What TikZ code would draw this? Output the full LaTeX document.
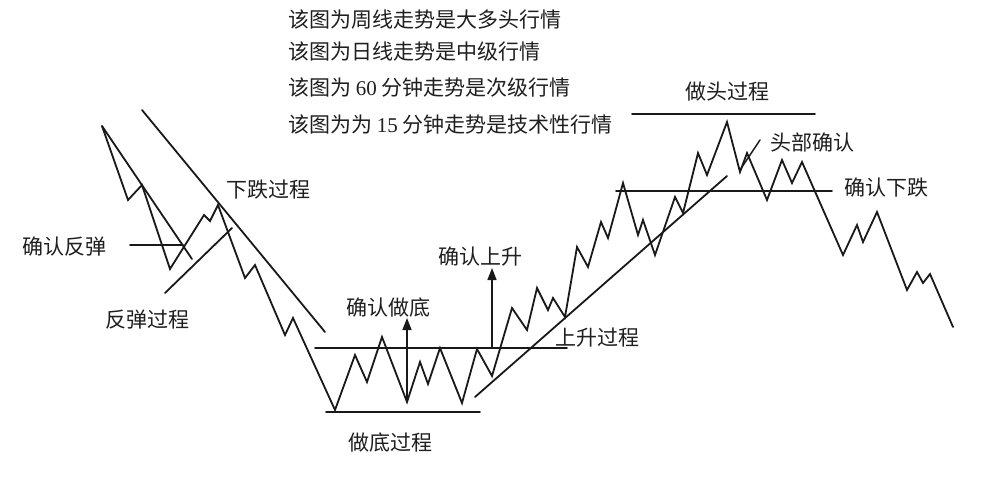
\documentclass[tikz,border=0pt]{standalone}
\usepackage{fontspec}
\newfontfamily\cjk{Noto Sans CJK SC}
\newfontfamily\numf{Liberation Serif}
\usetikzlibrary{arrows.meta}
\tikzset{
  lbl/.style={font=\cjk\fontsize{21}{21}\selectfont, inner sep=0pt, text=black!88},
  ln/.style={line width=1.8pt, draw=black!90, line join=miter, line cap=round},
  arr/.style={line width=1.6pt, draw=black!90, -{Triangle[length=12pt,width=9pt]}},
}
\begin{document}
\begin{tikzpicture}[x=1pt,y=-1pt]
\useasboundingbox[fill=white] (0,0) rectangle (1000,482);

% top text
\node[lbl, anchor=west] (t1) at (288,20) {该图为周线走势是大多头行情};
\node[lbl, anchor=west] (t2) at (288,52) {该图为日线走势是中级行情};
\node[lbl, anchor=west] (t3) at (288,88) {该图为 {\numf 60} 分钟走势是次级行情};
\node[lbl, anchor=west] (t4) at (288,125) {该图为为 {\numf 15} 分钟走势是技术性行情};

% price path
\draw[ln] (102,126) -- (128,200) -- (142,185) -- (170,269) -- (204,215) -- (210,221)
 -- (218,205) -- (245,278) -- (255,265) -- (285,335) -- (293,318) -- (335,410)
 -- (355,355) -- (367,382) -- (382,337) -- (407,402) -- (420,362) -- (428,384)
 -- (440,348) -- (462,403) -- (477,349) -- (492,376) -- (512,308) -- (527,330)
 -- (537,288) -- (548,310) -- (553,298) -- (565,317) -- (577,247) -- (588,267)
 -- (601,222) -- (608,238) -- (623,183) -- (638,235) -- (643,220) -- (655,255)
 -- (675,197) -- (683,213) -- (698,153) -- (707,175) -- (727,122) -- (740,172)
 -- (747,153) -- (767,200) -- (782,160) -- (792,183) -- (802,162) -- (843,255)
 -- (857,225) -- (863,242) -- (877,212) -- (907,290) -- (917,272) -- (923,283)
 -- (930,274) -- (953,327);

% trend lines
\coordinate (a1) at (102,126); \coordinate (a2) at (192,259);
\coordinate (b1) at (142,110); \coordinate (b2) at (325,332);
\coordinate (c1) at (165,293); \coordinate (c2) at (232,228);
\coordinate (d1) at (475,397); \coordinate (d2) at (727,176);
\draw[ln] (a1) -- (a2);
\draw[ln] (b1) -- (b2);
\draw[ln] (c1) -- (c2);
\draw[ln] (d1) -- (d2);

% horizontal lines
\coordinate (h1a) at (130,245); \coordinate (h1b) at (183,245);
\coordinate (h2a) at (315,348); \coordinate (h2b) at (567,348);
\coordinate (h3a) at (326,412); \coordinate (h3b) at (480,412);
\coordinate (h4a) at (616,191); \coordinate (h4b) at (832,191);
\coordinate (h5a) at (632,114); \coordinate (h5b) at (815,114);
\draw[ln] (h1a) -- (h1b);
\draw[ln] (h2a) -- (h2b);
\draw[ln] (h3a) -- (h3b);
\draw[ln] (h4a) -- (h4b);
\draw[ln] (h5a) -- (h5b);

% labels
\node[lbl] (l1) at (64,247) {确认反弹};
\node[lbl] (l2) at (147,320) {反弹过程};
\node[lbl] (l3) at (268,190) {下跌过程};
\node[lbl] (l4) at (388,308) {确认做底};
\node[lbl] (l5) at (480,257) {确认上升};
\node[lbl] (l6) at (390,443) {做底过程};
\node[lbl] (l7) at (597,338) {上升过程};
\node[lbl] (l8) at (727,92) {做头过程};
\node[lbl] (l9) at (812,142) {头部确认};
\node[lbl] (l10) at (886,188) {确认下跌};

% arrows
\coordinate (ar1) at (407,402); \coordinate (ar1t) at (407,318);
\coordinate (ar2) at (492,348); \coordinate (ar2t) at (492,268);
\draw[arr] (ar1) -- (ar1t);
\draw[arr] (ar2) -- (ar2t);

% pointer to head confirmation
\coordinate (p1) at (740,170); \coordinate (p2) at (760,140);
\draw[ln, line width=1.5pt] (p1) -- (p2);
\end{tikzpicture}
\end{document}
